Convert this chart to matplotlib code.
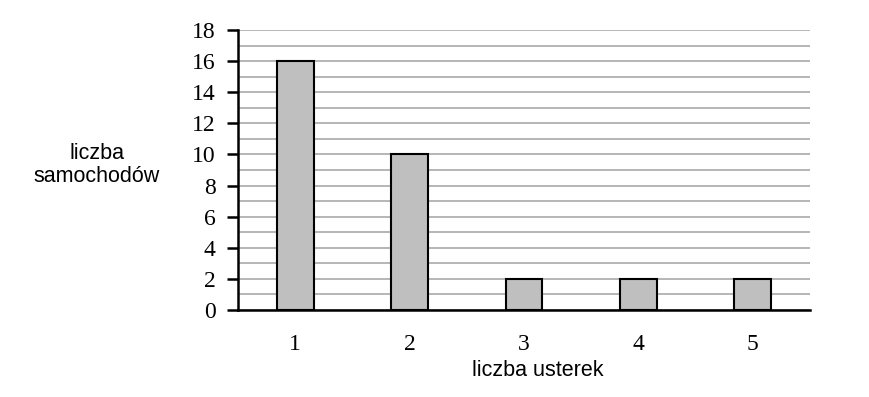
import matplotlib.pyplot as plt
import numpy as np

categories = ["1", "2", "3", "4", "5"]
counts = [16, 10, 2, 2, 2]

fig = plt.figure(figsize=(8.7, 3.97), dpi=100)
ax = fig.add_axes([238 / 870, 1 - 310 / 397, 572 / 870, 280 / 397])

x = np.arange(1, len(categories) + 1)
ax.bar(x, counts, width=0.32, color="#bfbfbf", edgecolor="black", linewidth=1.5, zorder=3)

ax.set_xlim(0.5, 5.5)
ax.set_ylim(0, 18)
ax.set_yticks(range(0, 19, 2))
ax.set_yticks(range(1, 19, 2), minor=True)
ax.set_xticks(x)
ax.set_xticklabels(categories)
ax.grid(axis="y", which="both", color="#b0b0b0", linewidth=1.3, zorder=0)

for s in ["top", "right"]:
    ax.spines[s].set_visible(False)
for s in ["left", "bottom"]:
    ax.spines[s].set_linewidth(1.8)
    ax.spines[s].set_zorder(4)

ax.tick_params(axis="y", which="major", length=8, width=1.8, pad=8)
ax.tick_params(axis="y", which="minor", length=0)
ax.tick_params(axis="x", length=0, pad=17)
for lab in ax.get_xticklabels() + ax.get_yticklabels():
    lab.set_fontfamily("Liberation Serif")
    lab.set_fontsize(17)

fig.text(538 / 870, 1 - 370 / 397, "liczba usterek", ha="center", va="center",
         fontfamily="Liberation Sans", fontsize=15.5)
fig.text(97 / 870, 1 - 165 / 397, "liczba\nsamochodów", ha="center", va="center",
         fontfamily="Liberation Sans", fontsize=15.5, linespacing=1.15)

fig.savefig("out.png", dpi=100)
